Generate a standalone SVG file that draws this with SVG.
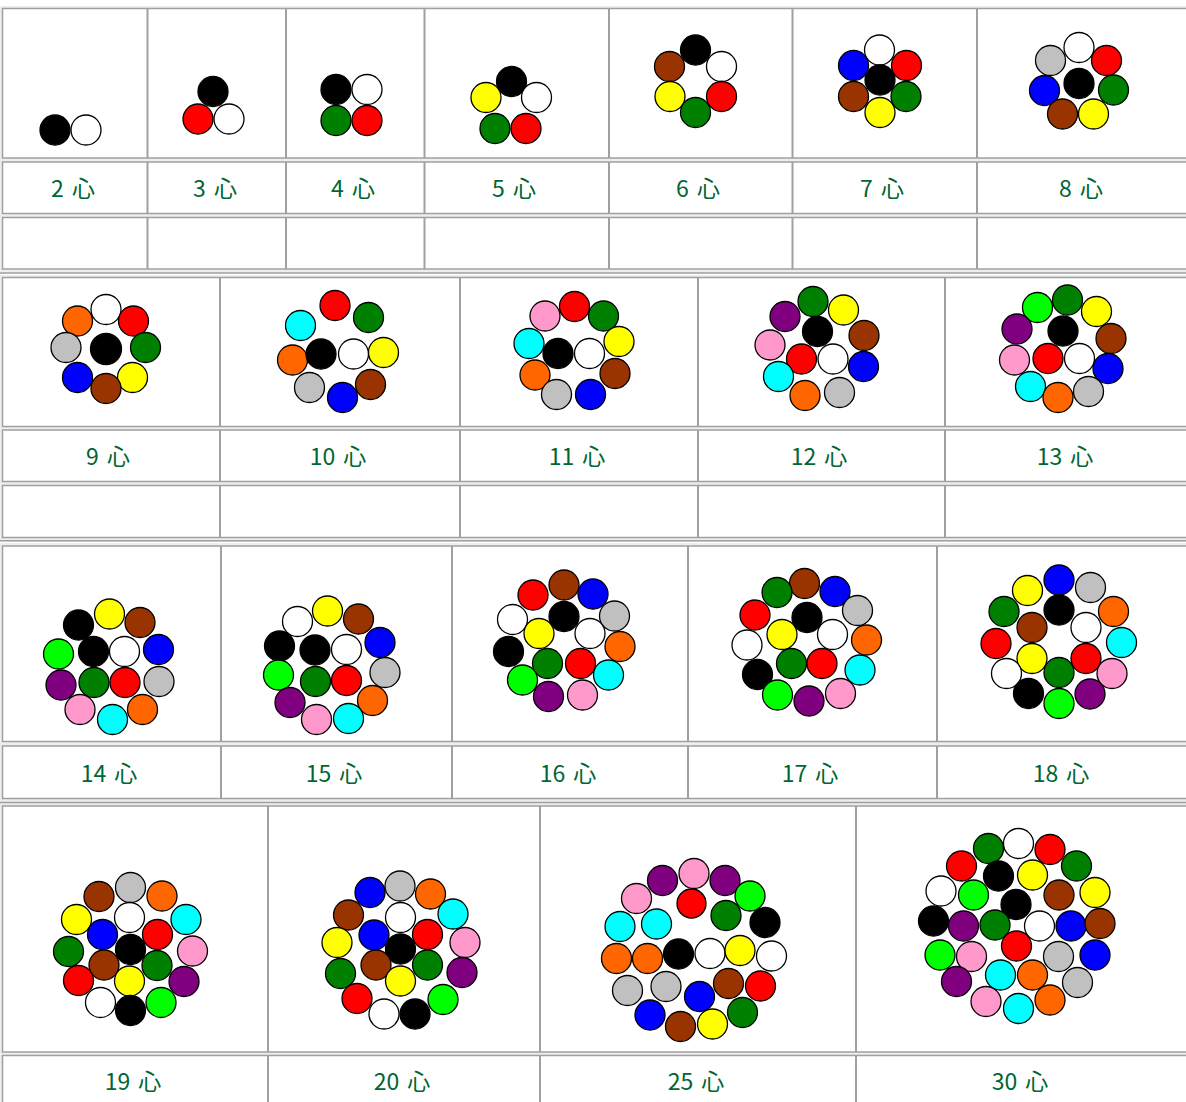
<svg xmlns="http://www.w3.org/2000/svg" width="1186" height="1102" viewBox="0 0 1186 1102">
<style>
text{font-family:"Noto Sans CJK JP","Noto Sans CJK SC",sans-serif;font-size:23px;fill:#006633;text-anchor:middle;word-spacing:3px}
circle{stroke:#000;stroke-width:1.3}
.bg{fill:#eeeeee}
.row{fill:#fff;stroke:#a0a0a0;stroke-width:1.5}
.vl{stroke:#a0a0a0;stroke-width:2;fill:none}
.ol{stroke:#a0a0a0;stroke-width:1.5}
.bk{fill:#000}.wh{fill:#fff}.rd{fill:#f00}.gn{fill:#008000}.ye{fill:#ff0}.br{fill:#993300}.bl{fill:#00f}.gy{fill:#c0c0c0}.or{fill:#ff6600}.cy{fill:#0ff}.pk{fill:#ff99cc}.pu{fill:#800080}.lm{fill:#0f0}
</style>
<rect width="1186" height="1102" fill="#fff"/>
<g id="grid">
<rect class="bg" x="0" y="6" width="1186" height="268"/>
<rect class="row" x="2.5" y="8.5" width="1190" height="149.5"/>
<rect class="row" x="2.5" y="162" width="1190" height="51.5"/>
<rect class="row" x="2.5" y="217.5" width="1190" height="51.5"/>
<line class="ol" x1="0" y1="273" x2="1186" y2="273"/>
<path class="vl" d="M147.5 8.5V158M286 8.5V158M424.5 8.5V158M609 8.5V158M792.5 8.5V158M977 8.5V158M147.5 162V213.5M286 162V213.5M424.5 162V213.5M609 162V213.5M792.5 162V213.5M977 162V213.5M147.5 217.5V269M286 217.5V269M424.5 217.5V269M609 217.5V269M792.5 217.5V269M977 217.5V269"/>
<rect class="bg" x="0" y="275" width="1186" height="267"/>
<rect class="row" x="2.5" y="277.5" width="1190" height="149"/>
<rect class="row" x="2.5" y="430" width="1190" height="51.5"/>
<rect class="row" x="2.5" y="485.5" width="1190" height="52"/>
<line class="ol" x1="0" y1="540.8" x2="1186" y2="540.8"/>
<path class="vl" d="M220 277.5V426.5M460 277.5V426.5M698 277.5V426.5M945 277.5V426.5M220 430V481.5M460 430V481.5M698 430V481.5M945 430V481.5M220 485.5V537.5M460 485.5V537.5M698 485.5V537.5M945 485.5V537.5"/>
<rect class="bg" x="0" y="543" width="1186" height="262"/>
<rect class="row" x="2.5" y="546" width="1190" height="195.5"/>
<rect class="row" x="2.5" y="746" width="1190" height="52.5"/>
<line class="ol" x1="0" y1="802.5" x2="1186" y2="802.5"/>
<path class="vl" d="M221 546V741.5M452 546V741.5M688 546V741.5M937 546V741.5M221 746V798.5M452 746V798.5M688 746V798.5M937 746V798.5"/>
<rect class="bg" x="0" y="804" width="1186" height="298"/>
<rect class="row" x="2.5" y="806" width="1190" height="246"/>
<rect class="row" x="2.5" y="1055.5" width="1190" height="60"/>
<path class="vl" d="M268 806V1052M540 806V1052M856 806V1052M268 1055.5V1110M540 1055.5V1110M856 1055.5V1110"/>
</g>
<g id="n2">
<circle class="bk" cx="55" cy="130" r="15"/><circle class="wh" cx="86" cy="130" r="15"/>
<text x="73" y="197">2 心</text>
</g>
<g id="n3">
<circle class="bk" cx="213" cy="91.5" r="15"/><circle class="rd" cx="198" cy="119" r="15"/><circle class="wh" cx="229" cy="119" r="15"/>
<text x="215" y="197">3 心</text>
</g>
<g id="n4">
<circle class="bk" cx="336" cy="89.5" r="15"/><circle class="wh" cx="367" cy="89.5" r="15"/><circle class="gn" cx="336" cy="120.5" r="15"/><circle class="rd" cx="367" cy="120.5" r="15"/>
<text x="353" y="197">4 心</text>
</g>
<g id="n5">
<circle class="bk" cx="511.5" cy="81.5" r="15"/><circle class="wh" cx="536.5" cy="97.5" r="15"/><circle class="ye" cx="486" cy="97.5" r="15"/><circle class="gn" cx="495" cy="128.5" r="15"/><circle class="rd" cx="526" cy="128.5" r="15"/>
<text x="514" y="197">5 心</text>
</g>
<g id="n6">
<circle class="bk" cx="695.5" cy="50" r="15"/><circle class="wh" cx="721.5" cy="66.5" r="15"/><circle class="br" cx="669.5" cy="66.5" r="15"/><circle class="ye" cx="670" cy="96.5" r="15"/><circle class="rd" cx="721.5" cy="96.5" r="15"/><circle class="gn" cx="695.5" cy="112.5" r="15"/>
<text x="698" y="197">6 心</text>
</g>
<g id="n7">
<circle class="wh" cx="879.5" cy="50" r="15"/><circle class="bl" cx="853.5" cy="65.5" r="15"/><circle class="rd" cx="906.5" cy="65.5" r="15"/><circle class="bk" cx="880" cy="80" r="15"/><circle class="br" cx="853.5" cy="96.5" r="15"/><circle class="gn" cx="906" cy="96.5" r="15"/><circle class="ye" cx="880" cy="112.5" r="15"/>
<text x="882" y="197">7 心</text>
</g>
<g id="n8">
<circle class="wh" cx="1079" cy="47.5" r="15"/><circle class="gy" cx="1050.5" cy="60.5" r="15"/><circle class="rd" cx="1106.5" cy="60.5" r="15"/><circle class="bk" cx="1079" cy="83.5" r="15"/><circle class="bl" cx="1044.5" cy="90.5" r="15"/><circle class="gn" cx="1113.5" cy="90" r="15"/><circle class="br" cx="1062.5" cy="114" r="15"/><circle class="ye" cx="1093.5" cy="114" r="15"/>
<text x="1081" y="197">8 心</text>
</g>
<g id="n9">
<circle class="wh" cx="106" cy="309.5" r="15"/><circle class="or" cx="77.5" cy="321" r="15"/><circle class="rd" cx="133.5" cy="321" r="15"/><circle class="gy" cx="66" cy="347.5" r="15"/><circle class="bk" cx="106" cy="349" r="15.5"/><circle class="gn" cx="145.5" cy="347.5" r="15"/><circle class="bl" cx="77.5" cy="377.5" r="15"/><circle class="ye" cx="132.5" cy="377.5" r="15"/><circle class="br" cx="106" cy="388.5" r="15"/>
<text x="108" y="465">9 心</text>
</g>
<g id="n10">
<circle class="rd" cx="335" cy="305.5" r="15"/><circle class="gn" cx="368.5" cy="317.5" r="15"/><circle class="cy" cx="300.5" cy="325.5" r="15"/><circle class="or" cx="292.5" cy="360" r="15"/><circle class="bk" cx="321" cy="354" r="15"/><circle class="wh" cx="353.5" cy="354" r="15"/><circle class="ye" cx="383.5" cy="352.5" r="15"/><circle class="gy" cx="309.5" cy="387.5" r="15"/><circle class="br" cx="370.5" cy="384.5" r="15"/><circle class="bl" cx="342.5" cy="397.5" r="15"/>
<text x="338" y="465">10 心</text>
</g>
<g id="n11">
<circle class="pk" cx="545" cy="316" r="15"/><circle class="rd" cx="574.5" cy="306.5" r="15"/><circle class="gn" cx="603.5" cy="316" r="15"/><circle class="cy" cx="529" cy="343.5" r="15"/><circle class="bk" cx="558" cy="353.5" r="15"/><circle class="wh" cx="589.5" cy="353.5" r="15"/><circle class="ye" cx="619" cy="341.5" r="15"/><circle class="or" cx="535" cy="375" r="15"/><circle class="br" cx="615" cy="373.5" r="15"/><circle class="gy" cx="556.5" cy="394.5" r="15"/><circle class="bl" cx="590.5" cy="394.5" r="15"/>
<text x="577" y="465">11 心</text>
</g>
<g id="n12">
<circle class="gn" cx="813" cy="301.5" r="15"/><circle class="ye" cx="843.5" cy="310" r="15"/><circle class="pu" cx="785" cy="316.5" r="15"/><circle class="bk" cx="817.5" cy="331.5" r="15"/><circle class="br" cx="864" cy="335.5" r="15"/><circle class="pk" cx="770" cy="345" r="15"/><circle class="rd" cx="801.5" cy="359" r="15"/><circle class="wh" cx="833" cy="359" r="15"/><circle class="bl" cx="863.5" cy="366.5" r="15"/><circle class="cy" cx="778.5" cy="376.5" r="15"/><circle class="gy" cx="839.5" cy="392.5" r="15"/><circle class="or" cx="805" cy="395.5" r="15"/>
<text x="819" y="465">12 心</text>
</g>
<g id="n13">
<circle class="lm" cx="1037.5" cy="307.5" r="15"/><circle class="gn" cx="1067.5" cy="300" r="15"/><circle class="ye" cx="1096.5" cy="311.5" r="15"/><circle class="pu" cx="1017" cy="329" r="15"/><circle class="bk" cx="1063" cy="331" r="15"/><circle class="br" cx="1111" cy="338.5" r="15"/><circle class="pk" cx="1014.5" cy="360" r="15"/><circle class="rd" cx="1048" cy="358.5" r="15"/><circle class="wh" cx="1079.5" cy="358.5" r="15"/><circle class="bl" cx="1108" cy="368.5" r="15"/><circle class="cy" cx="1030.5" cy="386.5" r="15"/><circle class="gy" cx="1088.5" cy="391.5" r="15"/><circle class="or" cx="1058" cy="397.5" r="15"/>
<text x="1065" y="465">13 心</text>
</g>
<g id="n14">
<circle class="ye" cx="109.5" cy="614" r="15"/><circle class="bk" cx="78.5" cy="625" r="15"/><circle class="br" cx="140" cy="622.5" r="15"/><circle class="lm" cx="58.5" cy="654" r="15"/><circle class="bk" cx="93.5" cy="651.5" r="15"/><circle class="wh" cx="124.5" cy="651.5" r="15"/><circle class="bl" cx="158.5" cy="649.5" r="15"/><circle class="pu" cx="61" cy="685" r="15"/><circle class="gn" cx="94" cy="682.5" r="15"/><circle class="rd" cx="125" cy="682.5" r="15"/><circle class="gy" cx="159" cy="681.5" r="15"/><circle class="pk" cx="80" cy="709.5" r="15"/><circle class="or" cx="142.5" cy="709.5" r="15"/><circle class="cy" cx="112.5" cy="719.5" r="15"/>
<text x="109" y="781.5">14 心</text>
</g>
<g id="n15">
<circle class="wh" cx="297.5" cy="621.5" r="15"/><circle class="ye" cx="327.5" cy="611" r="15"/><circle class="br" cx="358.5" cy="619" r="15"/><circle class="bk" cx="279.5" cy="646" r="15"/><circle class="bk" cx="315" cy="650" r="15"/><circle class="wh" cx="346.5" cy="649.5" r="15"/><circle class="bl" cx="380" cy="642.5" r="15"/><circle class="lm" cx="278.5" cy="675" r="15"/><circle class="gn" cx="315.5" cy="681.5" r="15"/><circle class="rd" cx="346.5" cy="680.5" r="15"/><circle class="gy" cx="385" cy="672.5" r="15"/><circle class="pu" cx="290" cy="702.5" r="15"/><circle class="or" cx="372.5" cy="700.5" r="15"/><circle class="pk" cx="316.5" cy="719.5" r="15"/><circle class="cy" cx="348.5" cy="718.5" r="15"/>
<text x="334" y="781.5">15 心</text>
</g>
<g id="n16">
<circle class="br" cx="564" cy="585" r="15"/><circle class="rd" cx="533" cy="595" r="15"/><circle class="bl" cx="593" cy="594" r="15"/><circle class="wh" cx="512.5" cy="619.5" r="15"/><circle class="bk" cx="564" cy="616.5" r="15"/><circle class="gy" cx="614.5" cy="616" r="15"/><circle class="ye" cx="539" cy="633.5" r="15"/><circle class="wh" cx="590" cy="633.5" r="15"/><circle class="bk" cx="508.5" cy="651.5" r="15"/><circle class="or" cx="620" cy="646.5" r="15"/><circle class="gn" cx="547.5" cy="663.5" r="15"/><circle class="rd" cx="580.5" cy="663.5" r="15"/><circle class="cy" cx="608.5" cy="675" r="15"/><circle class="lm" cx="522.5" cy="680" r="15"/><circle class="pu" cx="548.5" cy="696.5" r="15"/><circle class="pk" cx="582.5" cy="695" r="15"/>
<text x="568" y="781.5">16 心</text>
</g>
<g id="n17">
<circle class="br" cx="804.5" cy="583.5" r="15"/><circle class="gn" cx="777" cy="592.5" r="15"/><circle class="bl" cx="835" cy="591.5" r="15"/><circle class="rd" cx="755" cy="615" r="15"/><circle class="bk" cx="807" cy="617.5" r="15"/><circle class="gy" cx="857.5" cy="610.5" r="15"/><circle class="wh" cx="747" cy="645" r="15"/><circle class="ye" cx="782" cy="634.5" r="15"/><circle class="wh" cx="832.5" cy="634.5" r="15"/><circle class="or" cx="866.5" cy="640" r="15"/><circle class="bk" cx="757.5" cy="674.5" r="15"/><circle class="gn" cx="791.5" cy="663.5" r="15"/><circle class="rd" cx="822" cy="663.5" r="15"/><circle class="cy" cx="860" cy="670" r="15"/><circle class="lm" cx="777.5" cy="695" r="15"/><circle class="pk" cx="840.5" cy="693.5" r="15"/><circle class="pu" cx="809" cy="701" r="15"/>
<text x="810" y="781.5">17 心</text>
</g>
<g id="n18">
<circle class="bl" cx="1059" cy="580" r="15"/><circle class="ye" cx="1027.5" cy="590.5" r="15"/><circle class="gy" cx="1090.5" cy="587.5" r="15"/><circle class="gn" cx="1004" cy="611.5" r="15"/><circle class="bk" cx="1059" cy="610" r="15"/><circle class="or" cx="1113.5" cy="611.5" r="15"/><circle class="br" cx="1032" cy="627.5" r="15"/><circle class="wh" cx="1086" cy="627.5" r="15"/><circle class="rd" cx="996" cy="643.5" r="15"/><circle class="cy" cx="1121.5" cy="642.5" r="15"/><circle class="ye" cx="1032" cy="658.5" r="15"/><circle class="rd" cx="1086" cy="658.5" r="15"/><circle class="wh" cx="1006.5" cy="673.5" r="15"/><circle class="gn" cx="1059" cy="672.5" r="15"/><circle class="pk" cx="1112" cy="673.5" r="15"/><circle class="bk" cx="1028.5" cy="693.5" r="15"/><circle class="pu" cx="1090" cy="694" r="15"/><circle class="lm" cx="1059" cy="703.5" r="15"/>
<text x="1061" y="781.5">18 心</text>
</g>
<g id="n19">
<circle class="br" cx="99" cy="896.5" r="15"/><circle class="gy" cx="130.5" cy="887.5" r="15"/><circle class="or" cx="162" cy="896" r="15"/><circle class="ye" cx="76.5" cy="919.5" r="15"/><circle class="wh" cx="129.5" cy="917.5" r="15"/><circle class="cy" cx="186" cy="919.5" r="15"/><circle class="bl" cx="102.5" cy="934.5" r="15"/><circle class="rd" cx="157.5" cy="934.5" r="15"/><circle class="gn" cx="68.5" cy="951.5" r="15"/><circle class="bk" cx="130.5" cy="949.5" r="15"/><circle class="pk" cx="192.5" cy="951" r="15"/><circle class="br" cx="104" cy="965" r="15"/><circle class="gn" cx="157" cy="965.5" r="15"/><circle class="rd" cx="78.5" cy="980.5" r="15"/><circle class="ye" cx="129.5" cy="981" r="15"/><circle class="pu" cx="184" cy="981.5" r="15"/><circle class="wh" cx="100.5" cy="1002.5" r="15"/><circle class="lm" cx="161" cy="1002.5" r="15"/><circle class="bk" cx="130.5" cy="1010.5" r="15"/>
<text x="133" y="1090">19 心</text>
</g>
<g id="n20">
<circle class="bl" cx="370" cy="892.5" r="15"/><circle class="gy" cx="400" cy="886" r="15"/><circle class="or" cx="430.5" cy="894" r="15"/><circle class="br" cx="348.5" cy="915" r="15"/><circle class="wh" cx="400.5" cy="917.5" r="15"/><circle class="cy" cx="453" cy="914" r="15"/><circle class="ye" cx="337" cy="942.5" r="15"/><circle class="bl" cx="374" cy="935" r="15"/><circle class="rd" cx="427.5" cy="934.5" r="15"/><circle class="pk" cx="465" cy="942.5" r="15"/><circle class="bk" cx="400.5" cy="949" r="15"/><circle class="gn" cx="340.5" cy="973.5" r="15"/><circle class="br" cx="376" cy="965" r="15"/><circle class="gn" cx="427.5" cy="965" r="15"/><circle class="pu" cx="462" cy="972.5" r="15"/><circle class="ye" cx="400.5" cy="981" r="15"/><circle class="rd" cx="357" cy="998.5" r="15"/><circle class="lm" cx="443" cy="999.5" r="15"/><circle class="wh" cx="384" cy="1014" r="15"/><circle class="bk" cx="415" cy="1014" r="15"/>
<text x="402" y="1090">20 心</text>
</g>
<g id="n25">
<circle class="pu" cx="662.5" cy="880.5" r="15"/><circle class="pk" cx="694" cy="873.5" r="15"/><circle class="pu" cx="725" cy="880.5" r="15"/><circle class="pk" cx="636.5" cy="898.5" r="15"/><circle class="lm" cx="750" cy="896" r="15"/><circle class="rd" cx="691.5" cy="903.5" r="14.5"/><circle class="gn" cx="726" cy="915.5" r="15"/><circle class="cy" cx="620" cy="926.5" r="15"/><circle class="cy" cx="656.5" cy="924" r="15"/><circle class="bk" cx="765" cy="922.5" r="15"/><circle class="or" cx="616.5" cy="958.5" r="15"/><circle class="or" cx="647.5" cy="958.5" r="15"/><circle class="bk" cx="678.5" cy="954" r="15"/><circle class="wh" cx="710" cy="953.5" r="15"/><circle class="ye" cx="740" cy="950.5" r="15"/><circle class="wh" cx="771.5" cy="956" r="15"/><circle class="gy" cx="627.5" cy="990.5" r="15"/><circle class="gy" cx="666" cy="986.5" r="15"/><circle class="br" cx="728.5" cy="983.5" r="15"/><circle class="rd" cx="760.5" cy="986" r="15"/><circle class="bl" cx="699.5" cy="996.5" r="15"/><circle class="gn" cx="742.5" cy="1012.5" r="15"/><circle class="bl" cx="650" cy="1015" r="15"/><circle class="ye" cx="712.5" cy="1024" r="15"/><circle class="br" cx="680.5" cy="1026.5" r="15"/>
<text x="696" y="1090">25 心</text>
</g>
<g id="n30">
<circle class="wh" cx="1018.5" cy="843.5" r="15"/><circle class="gn" cx="988.5" cy="848.5" r="15"/><circle class="rd" cx="1050" cy="849.5" r="15"/><circle class="rd" cx="961.5" cy="866" r="15"/><circle class="gn" cx="1076.5" cy="866" r="15"/><circle class="bk" cx="998.5" cy="876" r="15"/><circle class="ye" cx="1032.5" cy="875" r="15"/><circle class="wh" cx="941" cy="891" r="15"/><circle class="lm" cx="973.5" cy="895" r="15"/><circle class="br" cx="1059" cy="895" r="15"/><circle class="ye" cx="1095" cy="892.5" r="15"/><circle class="bk" cx="1016" cy="904.5" r="15"/><circle class="bk" cx="933.5" cy="921" r="15"/><circle class="pu" cx="963.5" cy="926" r="15"/><circle class="gn" cx="995" cy="925" r="15"/><circle class="wh" cx="1039.5" cy="926" r="15"/><circle class="bl" cx="1071" cy="926" r="15"/><circle class="br" cx="1100" cy="923.5" r="15"/><circle class="rd" cx="1016.5" cy="946" r="15"/><circle class="lm" cx="940" cy="955" r="15"/><circle class="pk" cx="971.5" cy="956.5" r="15"/><circle class="gy" cx="1058.5" cy="956.5" r="15"/><circle class="bl" cx="1095" cy="955" r="15"/><circle class="cy" cx="1000.5" cy="975" r="15"/><circle class="or" cx="1032.5" cy="975" r="15"/><circle class="pu" cx="956.5" cy="981.5" r="15"/><circle class="gy" cx="1077.5" cy="982.5" r="15"/><circle class="pk" cx="986" cy="1001.5" r="15"/><circle class="or" cx="1050" cy="1000" r="15"/><circle class="cy" cx="1018.5" cy="1008.5" r="15"/>
<text x="1020" y="1090">30 心</text>
</g>
</svg>
